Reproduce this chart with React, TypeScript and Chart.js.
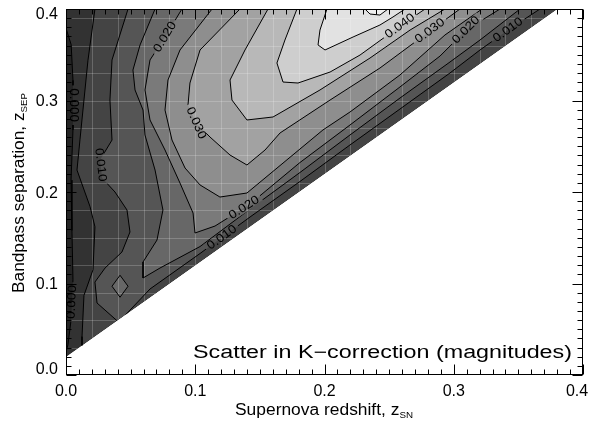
import React, { useEffect, useRef } from 'react';
import { Chart, registerables } from 'chart.js';
Chart.register(...registerables);

// ---- axes ----
const xTickValues = [0, 0.1, 0.2, 0.3, 0.4];
const yTickValues = [0, 0.1, 0.2, 0.3, 0.4];
const gridXValues = [0.02, 0.04, 0.06, 0.08, 0.1, 0.12, 0.14, 0.16, 0.18, 0.2, 0.22, 0.24, 0.26, 0.28, 0.3, 0.32, 0.34, 0.36, 0.38];
const gridYValues = [0.03, 0.06, 0.09, 0.12, 0.15, 0.18, 0.21, 0.24, 0.27, 0.3, 0.33, 0.36, 0.39];

// ---- contour levels (scatter in K-correction, mag) ----
const levels = [0.0, 0.005, 0.01, 0.015, 0.02, 0.025, 0.03, 0.035, 0.04, 0.045, 0.05];
const bandGray = [36, 50, 68, 85, 103, 122, 142, 162, 184, 206, 226, 240];

// data domain (zSEP >= zSN + 0.02)
const domain = [[0, 0.02], [0.38, 0.4], [0, 0.4]];

// contour lines, [zSN, zSEP]
const c000 = [[0, 0.379], [0.004, 0.361], [0.0054, 0.322], [0.0054, 0.268], [0.0039, 0.213], [0.0046, 0.158], [0.0054, 0.104], [0.0039, 0.06], [0.0015, 0.033], [0, 0.025]];
const c000close = [[0, 0.02], [0.38, 0.4], [0, 0.4]];
const c005 = [[0.0224, 0.4], [0.017, 0.344], [0.0108, 0.257], [0.0085, 0.224], [0.0186, 0.184], [0.0224, 0.162], [0.0209, 0.115], [0.0139, 0.087], [0.0124, 0.042], [0.0124, 0.0324]];
const c005close = [[0.38, 0.4]];
const c010a = [[0.048, 0.4], [0.0356, 0.3443], [0.034, 0.3005], [0.0356, 0.2568], [0.0263, 0.235], [0.0279, 0.2153], [0.0379, 0.2], [0.0472, 0.1803], [0.0495, 0.1563], [0.0433, 0.1344], [0.0302, 0.1169], [0.0224, 0.1016], [0.024, 0.0787], [0.0395, 0.0593]];
const c010b = [[0.0464, 0.0663], [0.065, 0.094], [0.1037, 0.1328], [0.1424, 0.1727], [0.181, 0.2115], [0.2197, 0.2514], [0.2584, 0.2907], [0.2971, 0.3301], [0.3203, 0.3552], [0.342, 0.377], [0.3667, 0.4]];
const c015 = [[0.0689, 0.4], [0.0573, 0.3607], [0.0518, 0.3333], [0.0534, 0.3115], [0.0596, 0.2896], [0.0611, 0.2623], [0.0689, 0.224], [0.075, 0.1803], [0.0704, 0.1475], [0.0596, 0.1235], [0.0596, 0.106], [0.0727, 0.1169], [0.1037, 0.1404], [0.1424, 0.1814], [0.181, 0.2213], [0.2197, 0.2623], [0.2584, 0.3027], [0.2971, 0.3421], [0.3203, 0.3661], [0.3513, 0.4]];
const c015island = [[0.0356, 0.097], [0.0418, 0.109], [0.048, 0.097], [0.0418, 0.085], [0.0356, 0.097]];
const c020 = [[0.0897, 0.4], [0.0766, 0.3694], [0.065, 0.3443], [0.0611, 0.3115], [0.065, 0.2787], [0.0766, 0.2459], [0.0882, 0.2098], [0.0983, 0.177], [0.0998, 0.1552], [0.1153, 0.1628], [0.1424, 0.1869], [0.181, 0.2322], [0.2197, 0.2732], [0.2584, 0.3148], [0.2894, 0.3486], [0.3095, 0.377], [0.3358, 0.4]];
const c025 = [[0.113, 0.4], [0.0882, 0.3552], [0.0789, 0.3224], [0.0766, 0.2896], [0.082, 0.2568], [0.0921, 0.2262], [0.1037, 0.2077], [0.1191, 0.1945], [0.14, 0.1989], [0.1988, 0.2678], [0.2197, 0.2874], [0.2584, 0.3279], [0.2932, 0.3716], [0.3219, 0.4]];
const c030 = [[0.1346, 0.4], [0.1037, 0.3552], [0.0959, 0.3191], [0.0944, 0.2951], [0.1006, 0.2754], [0.1114, 0.2601], [0.1269, 0.2404], [0.14, 0.2295], [0.154, 0.2459], [0.1656, 0.2645], [0.2043, 0.3005], [0.2429, 0.3355], [0.2816, 0.376], [0.3048, 0.4]];
const c035 = [[0.1563, 0.4], [0.1385, 0.3552], [0.1269, 0.3224], [0.1284, 0.3005], [0.14, 0.2787], [0.1602, 0.282], [0.1965, 0.3115], [0.2352, 0.3464], [0.2662, 0.377], [0.2932, 0.4]];
const c040 = [[0.1787, 0.4], [0.1694, 0.3661], [0.1632, 0.341], [0.1679, 0.3202], [0.1795, 0.3191], [0.2043, 0.3311], [0.2275, 0.3497], [0.2468, 0.3694], [0.2584, 0.3814], [0.2778, 0.4]];
const c045 = [[0.2019, 0.4], [0.1965, 0.377], [0.195, 0.3607], [0.2004, 0.3552], [0.2221, 0.3694], [0.2429, 0.3825], [0.253, 0.3913], [0.2623, 0.4]];
const c050 = [[0.2313, 0.4], [0.2352, 0.3945], [0.2429, 0.3934], [0.2491, 0.4]];

type Piece = { pts: number[][]; line: boolean };
const regions: { band: number; pieces: Piece[] }[] = [
  { band: 1, pieces: [{ pts: c000, line: true }, { pts: c000close, line: false }] },
  { band: 2, pieces: [{ pts: c005, line: true }, { pts: c005close, line: false }] },
  { band: 3, pieces: [{ pts: c010a, line: true }, { pts: c010b, line: true }] },
  { band: 4, pieces: [{ pts: c015, line: true }] },
  { band: 4, pieces: [{ pts: c015island, line: true }] },
  { band: 5, pieces: [{ pts: c020, line: true }] },
  { band: 6, pieces: [{ pts: c025, line: true }] },
  { band: 7, pieces: [{ pts: c030, line: true }] },
  { band: 8, pieces: [{ pts: c035, line: true }] },
  { band: 9, pieces: [{ pts: c040, line: true }] },
  { band: 10, pieces: [{ pts: c045, line: true }] },
  { band: 11, pieces: [{ pts: c050, line: true }] },
];

const contourLabels = [
  { text: '0.000', line: c000, x: 0.0039, y: 0.295 },
  { text: '0.000', line: c000, x: 0.0023, y: 0.08 },
  { text: '0.010', line: c010a, x: 0.0248, y: 0.2295 },
  { text: '0.020', line: c020, x: 0.0766, y: 0.3694 },
  { text: '0.030', line: c030, x: 0.1006, y: 0.2754 },
  { text: '0.020', line: c020, x: 0.1385, y: 0.1814 },
  { text: '0.010', line: c010b, x: 0.1207, y: 0.1503 },
  { text: '0.040', line: c040, x: 0.2584, y: 0.3814 },
  { text: '0.030', line: c030, x: 0.2816, y: 0.376 },
  { text: '0.020', line: c020, x: 0.3095, y: 0.377 },
  { text: '0.010', line: c010b, x: 0.342, y: 0.377 },
];

const FONT = '"Liberation Sans", Arial, Helvetica, sans-serif';
const LABEL_FONT = `12px ${FONT}`;
const LABEL_STRETCH = 1.12;

function gray(v: number) {
  return `rgb(${v},${v},${v})`;
}

function labelGeometry(chart: any, lab: any) {
  const sx = chart.scales.x, sy = chart.scales.y;
  const P = lab.line.map((p: number[]) => [sx.getPixelForValue(p[0]), sy.getPixelForValue(p[1])]);
  const tx = sx.getPixelForValue(lab.x), ty = sy.getPixelForValue(lab.y);
  let best = { d: Infinity, x: tx, y: ty, a: 0 };
  for (let i = 0; i < P.length - 1; i++) {
    const [x1, y1] = P[i], [x2, y2] = P[i + 1];
    const dx = x2 - x1, dy = y2 - y1;
    const L2 = dx * dx + dy * dy || 1;
    let t = ((tx - x1) * dx + (ty - y1) * dy) / L2;
    t = Math.max(0, Math.min(1, t));
    const qx = x1 + t * dx, qy = y1 + t * dy;
    const d = Math.hypot(qx - tx, qy - ty);
    if (d < best.d) {
      let a = Math.atan2(dy, dx);
      if (a > Math.PI / 2) a -= Math.PI;
      if (a < -Math.PI / 2) a += Math.PI;
      best = { d, x: qx, y: qy, a };
    }
  }
  return best;
}

const contourPlugin = {
  id: 'contourFill',
  beforeDraw(chart: any) {
    const ctx = chart.ctx;
    const sx = chart.scales.x, sy = chart.scales.y;
    const ca = chart.chartArea;
    ctx.save();
    ctx.fillStyle = '#fff';
    ctx.fillRect(0, 0, chart.width, chart.height);
    ctx.beginPath();
    ctx.rect(ca.left, ca.top, ca.right - ca.left, ca.bottom - ca.top);
    ctx.clip();
    ctx.beginPath();
    domain.forEach((p, i) => {
      const X = sx.getPixelForValue(p[0]), Y = sy.getPixelForValue(p[1]);
      if (i === 0) ctx.moveTo(X, Y); else ctx.lineTo(X, Y);
    });
    ctx.closePath();
    ctx.clip();
    ctx.fillStyle = gray(bandGray[0]);
    ctx.fillRect(ca.left, ca.top, ca.right - ca.left, ca.bottom - ca.top);
    regions.forEach((r) => {
      ctx.beginPath();
      let first = true;
      r.pieces.forEach((pc) => {
        pc.pts.forEach((p) => {
          const X = sx.getPixelForValue(p[0]), Y = sy.getPixelForValue(p[1]);
          if (first) { ctx.moveTo(X, Y); first = false; } else ctx.lineTo(X, Y);
        });
      });
      ctx.closePath();
      ctx.fillStyle = gray(bandGray[r.band]);
      ctx.fill();
    });
    // light grid over the shaded domain
    ctx.strokeStyle = 'rgba(255,255,255,0.2)';
    ctx.lineWidth = 1;
    ctx.beginPath();
    gridXValues.forEach((v) => {
      const X = Math.round(sx.getPixelForValue(v)) + 0.5;
      ctx.moveTo(X, ca.top);
      ctx.lineTo(X, ca.bottom);
    });
    gridYValues.forEach((v) => {
      const Y = Math.round(sy.getPixelForValue(v)) + 0.5;
      ctx.moveTo(ca.left, Y);
      ctx.lineTo(ca.right, Y);
    });
    ctx.stroke();
    ctx.restore();
  },
  beforeDatasetsDraw(chart: any) {
    const ctx = chart.ctx;
    ctx.save();
    ctx.font = LABEL_FONT;
    ctx.beginPath();
    ctx.rect(0, 0, chart.width, chart.height);
    contourLabels.forEach((lab) => {
      const g = labelGeometry(chart, lab);
      const w = (ctx.measureText(lab.text).width * LABEL_STRETCH) / 2 + 3;
      const h = 5;
      const c = Math.cos(g.a), s = Math.sin(g.a);
      const corners = [[-w, -h], [w, -h], [w, h], [-w, h]].map(([u, v]) => [g.x + u * c - v * s, g.y + u * s + v * c]);
      ctx.moveTo(corners[0][0], corners[0][1]);
      corners.slice(1).forEach((p) => ctx.lineTo(p[0], p[1]));
      ctx.closePath();
    });
    ctx.clip('evenodd');
  },
  afterDatasetsDraw(chart: any) {
    chart.ctx.restore();
  },
  afterDraw(chart: any) {
    const ctx = chart.ctx;
    const sx = chart.scales.x, sy = chart.scales.y;
    const ca = chart.chartArea;
    ctx.save();
    // contour labels
    ctx.font = LABEL_FONT;
    ctx.fillStyle = '#000';
    ctx.textAlign = 'center';
    ctx.textBaseline = 'middle';
    contourLabels.forEach((lab) => {
      const g = labelGeometry(chart, lab);
      ctx.save();
      ctx.translate(g.x, g.y);
      ctx.rotate(g.a);
      ctx.scale(LABEL_STRETCH, 1);
      ctx.fillText(lab.text, 0, 0);
      ctx.restore();
    });
    // frame
    ctx.strokeStyle = '#000';
    ctx.lineWidth = 1;
    const L = Math.round(ca.left) + 0.5, R = Math.round(ca.right) - 0.5;
    const T = Math.round(ca.top) + 0.5, B = Math.round(ca.bottom) - 0.5;
    ctx.strokeRect(L, T, R - L, B - T);
    // inward ticks
    ctx.beginPath();
    for (let i = 0; i <= 40; i++) {
      const v = i * 0.01;
      const major = i % 10 === 0;
      const len = major ? 10 : 5;
      const X = Math.round(sx.getPixelForValue(v)) + 0.5;
      ctx.moveTo(X, B); ctx.lineTo(X, B - len);
      ctx.moveTo(X, T); ctx.lineTo(X, T + len);
      const Y = Math.round(sy.getPixelForValue(v)) + 0.5;
      ctx.moveTo(L, Y); ctx.lineTo(L + len, Y);
      ctx.moveTo(R, Y); ctx.lineTo(R - len, Y);
    }
    ctx.stroke();

    // tick labels
    ctx.font = `16px ${FONT}`;
    ctx.fillStyle = '#000';
    ctx.textBaseline = 'middle';
    ctx.textAlign = 'center';
    xTickValues.forEach((v) => {
      const X = Math.min(sx.getPixelForValue(v), ca.right - 6);
      ctx.fillText(v.toFixed(1), X, ca.bottom + 17);
    });
    ctx.textAlign = 'right';
    yTickValues.forEach((v) => {
      const Y = Math.max(ca.top + 6, Math.min(ca.bottom - 5, sy.getPixelForValue(v) + 1.5));
      ctx.fillText(v.toFixed(1), ca.left - 8, Y);
    });

    // texts
    const drawParts = (parts: { t: string; f: string; dy: number }[], total: number) => {
      let w = 0;
      parts.forEach((p) => { ctx.font = p.f; w += ctx.measureText(p.t).width; });
      const s = total / w;
      ctx.scale(s, 1);
      let x = 0;
      parts.forEach((p) => {
        ctx.font = p.f;
        ctx.fillText(p.t, x, p.dy);
        x += ctx.measureText(p.t).width;
      });
    };
    ctx.fillStyle = '#000';
    ctx.textAlign = 'left';
    ctx.textBaseline = 'alphabetic';
    ctx.save();
    ctx.translate(235, 415);
    drawParts([
      { t: 'Supernova redshift, z', f: `16px ${FONT}`, dy: 0 },
      { t: 'SN', f: `9px ${FONT}`, dy: 3 },
    ], 178);
    ctx.restore();
    ctx.save();
    ctx.translate(24, 293);
    ctx.rotate(-Math.PI / 2);
    drawParts([
      { t: 'Bandpass separation, z', f: `16px ${FONT}`, dy: 0 },
      { t: 'SEP', f: `9px ${FONT}`, dy: 3 },
    ], 200);
    ctx.restore();
    ctx.save();
    ctx.translate(193, 358);
    drawParts([{ t: 'Scatter in K\u2212correction (magnitudes)', f: `18px ${FONT}`, dy: 0 }], 379);
    ctx.restore();
    ctx.restore();
  },
};

export default function App() {
  const ref = useRef<HTMLCanvasElement>(null);
  useEffect(() => {
    if (!ref.current) return;
    const lineSets = regions.flatMap((r) =>
      r.pieces.filter((p) => p.line).map((p) => ({
        data: p.pts.map((q) => ({ x: q[0], y: q[1] })),
        showLine: true,
        borderColor: '#000',
        borderWidth: 1,
        pointRadius: 0,
        tension: 0,
        fill: false,
      }))
    );
    const chart = new Chart(ref.current, {
      type: 'scatter',
      data: { datasets: lineSets as any },
      options: {
        animation: false,
        responsive: false,
        maintainAspectRatio: false,
        events: [],
        layout: { padding: { top: 9, right: 11, left: 0, bottom: 0 } },
        plugins: { legend: { display: false }, tooltip: { enabled: false } },
        scales: {
          x: {
            type: 'linear', min: 0, max: 0.4,
            grid: { display: false, drawTicks: false },
            border: { display: false },
            afterBuildTicks: (s: any) => { s.ticks = xTickValues.map((v) => ({ value: v })); },
            afterFit: (s: any) => { s.height = 48; },
            ticks: { display: false },
          },
          y: {
            type: 'linear', min: 0, max: 0.4,
            grid: { display: false, drawTicks: false },
            border: { display: false },
            afterBuildTicks: (s: any) => { s.ticks = yTickValues.map((v) => ({ value: v })); },
            afterFit: (s: any) => { s.width = 66; },
            ticks: { display: false },
          },
        },
      },
      plugins: [contourPlugin],
    } as any);
    return () => chart.destroy();
  }, []);
  return (
    <div style={{ position: 'absolute', left: 0, top: 0, width: 594, height: 423, background: '#fff' }}>
      <canvas ref={ref} width={594} height={423} style={{ display: 'block' }} />
    </div>
  );
}
